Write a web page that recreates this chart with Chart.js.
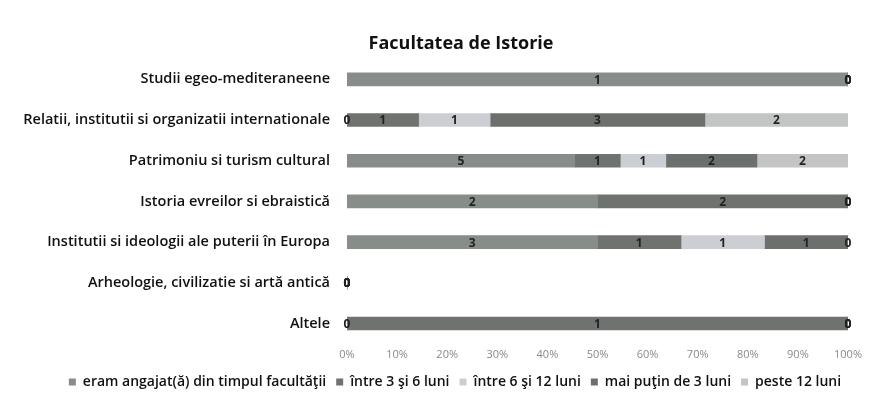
<!DOCTYPE html>
<html>
<head>
<meta charset="utf-8">
<script src="https://cdn.jsdelivr.net/npm/chart.js@4"></script>
<style>
  body { margin: 0; background: #fff; }
  #wrap { width: 872px; height: 405px; }
</style>
</head>
<body>
<div id="wrap"><canvas id="bar" width="872" height="405"></canvas></div>
<script>
//setup
const chartTitle = 'Facultatea de Istorie';
const categories = [
    'Studii egeo-mediteraneene',
    'Relatii, institutii si organizatii internationale',
    'Patrimoniu si turism cultural',
    'Istoria evreilor si ebraistică',
    'Institutii si ideologii ale puterii în Europa',
    'Arheologie, civilizatie si artă antică',
    'Altele'
];
const seriesNames = [
    'eram angajat(ă) din timpul facultăţii',
    'între 3 şi 6 luni',
    'între 6 şi 12 luni',
    'mai puţin de 3 luni',
    'peste 12 luni'
];
const angajat  = [1, 0, 5, 2, 3, 0, 0];
const intre3_6 = [0, 1, 1, 2, 1, 0, 1];
const intre6_12 = [0, 1, 1, 0, 1, 0, 0];
const sub3     = [0, 3, 2, 0, 1, 0, 0];
const peste12  = [0, 2, 2, 0, 0, 0, 0];
const colors = ['#878d89', '#6e736f', '#cbced2', '#6b706d', '#c2c5c3'];
const xTicks = ['0%', '10%', '20%', '30%', '40%', '50%', '60%', '70%', '80%', '90%', '100%'];

const counts = [angajat, intre3_6, intre6_12, sub3, peste12];
const totals = categories.map((c, i) => counts.reduce((s, arr) => s + arr[i], 0));
const pct = arr => arr.map((v, i) => totals[i] ? v / totals[i] * 100 : 0);

const data = {
    labels: categories,
    datasets: counts.map((arr, k) => ({
        label: seriesNames[k],
        data: pct(arr),
        raw: arr,
        backgroundColor: colors[k],
        barThickness: 13,
        stack: 's'
    }))
};

// value labels inside each segment, zeros included (like the original)
const valueLabels = {
    id: 'valueLabels',
    afterDatasetsDraw(chart) {
        const ctx = chart.ctx;
        ctx.save();
        ctx.font = 'bold 12px "Open Sans"';
        ctx.fillStyle = '#222';
        ctx.textAlign = 'center';
        ctx.textBaseline = 'middle';
        chart.data.datasets.forEach((ds, k) => {
            chart.getDatasetMeta(k).data.forEach((bar, i) => {
                const x = (bar.x + bar.base) / 2;
                ctx.fillText(String(ds.raw[i]), x, bar.y + 1);
            });
        });
        ctx.restore();
    }
};

// title and legend sit a bit right of the canvas centre in the original
const shiftRight = 31;
const titlePlugin = {
    id: 'titlePlugin',
    afterLayout(chart) {
        chart.legend.left += shiftRight;
        chart.legend.right += shiftRight;
    },
    afterDraw(chart) {
        const ctx = chart.ctx;
        ctx.save();
        ctx.font = 'bold 18px "Open Sans"';
        ctx.fillStyle = '#111';
        ctx.textAlign = 'center';
        ctx.textBaseline = 'middle';
        ctx.fillText(chartTitle, 461, 44);
        ctx.restore();
    }
};

//options
const options = {
    responsive: false,
    animation: false,
    indexAxis: 'y',
    layout: { padding: { top: 59, right: 24, bottom: 6, left: 0 } },
    scales: {
        x: {
            stacked: true,
            min: 0,
            max: 100,
            grid: { display: false, drawTicks: false },
            border: { display: false },
            ticks: {
                stepSize: 10,
                color: '#8a8a8a',
                font: { family: 'Open Sans', size: 11 },
                padding: 4,
                callback: (v, i) => xTicks[i]
            }
        },
        y: {
            stacked: true,
            grid: { display: false, drawTicks: false },
            border: { display: false },
            ticks: {
                color: '#111',
                padding: 17,
                font: { family: 'Open Sans', size: 14.5, weight: '600' }
            },
            afterFit(scale) { scale.width = 347; }
        }
    },
    plugins: {
        legend: {
            position: 'bottom',
            labels: {
                boxWidth: 7,
                boxHeight: 7,
                padding: 10,
                color: '#111',
                font: { family: 'Open Sans', size: 14, weight: '600' }
            }
        },
        title: { display: false },
        tooltip: { enabled: false }
    }
};

//render init
const bar = new Chart(document.getElementById('bar'), {
    type: 'bar',
    data: data,
    options,
    plugins: [valueLabels, titlePlugin]
});
</script>
</body>
</html>
